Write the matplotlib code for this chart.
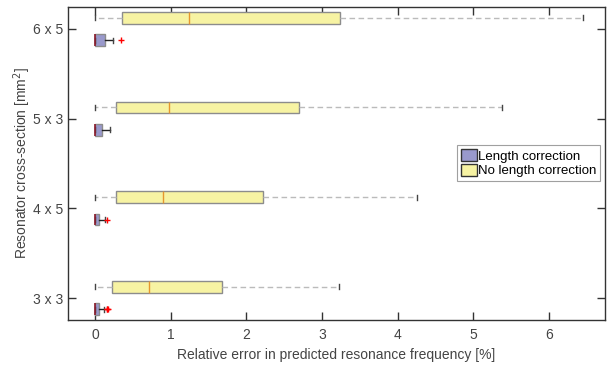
import numpy as np
import matplotlib
matplotlib.use("Agg")
import matplotlib.pyplot as plt
from matplotlib.patches import Patch

plt.rcParams['font.family'] = ['Liberation Sans', 'DejaVu Sans']

# %% data (relative error in %)
sections = ["3 x 3", "4 x 5", "5 x 3", "6 x 5"]

# no length correction (yellow)
nolc_min = [0.0, 0.0, 0.0, 0.0]
nolc_q1 = [0.22, 0.28, 0.28, 0.35]
nolc_med = [0.71, 0.90, 0.98, 1.24]
nolc_q3 = [1.67, 2.22, 2.70, 3.24]
nolc_max = [3.22, 4.26, 5.38, 6.45]

# length correction (blue)
lc_min = [0.0, 0.0, 0.0, 0.0]
lc_q1 = [0.0, 0.0, 0.0, 0.0]
lc_med = [0.0, 0.0, 0.0, 0.0]
lc_q3 = [0.055, 0.05, 0.095, 0.13]
lc_max = [0.115, 0.126, 0.19, 0.235]
lc_fliers = [[0.15, 0.16, 0.17], [0.16], [], [0.34]]

# %% build stats for bxp
def make_stats(lo, q1, med, q3, hi, fl=None):
    out = []
    for i in range(len(lo)):
        out.append(dict(whislo=lo[i], q1=q1[i], med=med[i], q3=q3[i], whishi=hi[i],
                        fliers=fl[i] if fl is not None else []))
    return out

pos = np.arange(1, len(sections) + 1)
off = 0.125
h = 0.13

fig = plt.figure(figsize=(6.13, 3.67), dpi=100)
ax = fig.add_axes([68 / 613, 1 - 320 / 367, 537 / 613, 313 / 367])

yellow = "#F7F3A3"
blue = "#9999CC"
edge = "#8C8C8C"

ax.bxp(make_stats(nolc_min, nolc_q1, nolc_med, nolc_q3, nolc_max),
       positions=pos + off, widths=h, vert=False, patch_artist=True,
       showfliers=False,
       boxprops=dict(facecolor=yellow, edgecolor=edge, linewidth=1),
       medianprops=dict(color="#E6962E", linewidth=1),
       whiskerprops=dict(color="#BBBBBB", linestyle=(0, (4, 2.5)), linewidth=1),
       capprops=dict(color="#444444", linewidth=1), capwidths=0.055)

ax.bxp(make_stats(lc_min, lc_q1, lc_med, lc_q3, lc_max, lc_fliers),
       positions=pos - off, widths=h, vert=False, patch_artist=True,
       boxprops=dict(facecolor=blue, edgecolor=edge, linewidth=1),
       medianprops=dict(color="#8B1A2B", linewidth=1.2),
       whiskerprops=dict(color="#222222", linestyle="-", linewidth=1),
       capprops=dict(color="#444444", linewidth=1), capwidths=0.055,
       flierprops=dict(marker="+", markeredgecolor="red", markersize=4, markeredgewidth=1))

ax.set_xlim(-0.36, 6.74)
ax.set_ylim(0.755, 4.245)
ax.set_xticks(range(0, 7))
ax.set_yticks(pos)
ax.set_yticklabels(sections)

for s in ax.spines.values():
    s.set_color("#333333")
    s.set_linewidth(1)
ax.tick_params(direction="in", top=True, right=True, length=6, width=1,
               colors="#333333", labelcolor="#444444", labelsize=10)
ax.tick_params(axis="x", pad=6)

ax.set_xlabel("Relative error in predicted resonance frequency [%]", fontsize=10, color="#444444")
ax.set_ylabel("Resonator cross-section [mm$^2$]", fontsize=10, color="#444444", labelpad=0)

handles = [Patch(facecolor=blue, edgecolor="#333333", label="Length correction"),
           Patch(facecolor=yellow, edgecolor="#333333", label="No length correction")]
leg = ax.legend(handles=handles, loc="upper left", bbox_to_anchor=(0.724, 0.558),
                fontsize=9.5, frameon=True, fancybox=False, handlelength=1.2,
                handleheight=1.0, handletextpad=0.1, borderpad=0.3, labelspacing=0.1,
                borderaxespad=0)
leg.get_frame().set_edgecolor("#888888")
leg.get_frame().set_linewidth(0.8)

fig.savefig("out.png", dpi=100)
